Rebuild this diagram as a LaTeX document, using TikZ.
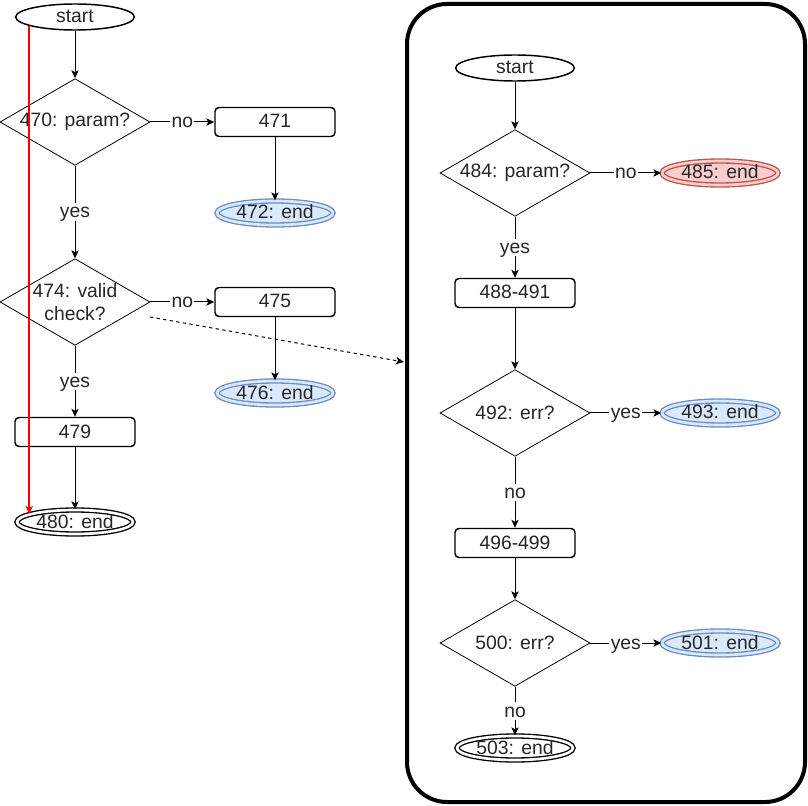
\documentclass[tikz,border=0pt]{standalone}
\usepackage{fontspec}
\setmainfont{Liberation Sans}
\usetikzlibrary{shapes.geometric,arrows.meta}
\definecolor{blueFill}{HTML}{DAE8FC}
\definecolor{blueLine}{HTML}{6C8EBF}
\definecolor{redFill}{HTML}{F8CECC}
\definecolor{redLine}{HTML}{B85450}
\definecolor{linkRed}{HTML}{FF0000}
\begin{document}
\begin{tikzpicture}[x=0.75pt,y=-0.75pt,
  every node/.style={font=\fontsize{14.5}{17}\selectfont, text=black!85},
  term/.style={ellipse, draw, line width=1.1pt, minimum width=89pt, minimum height=19.5pt,
    inner sep=0pt, text height=10pt, text depth=1pt},
  stepbox/.style={rectangle, rounded corners=3pt, draw, line width=1.1pt,
    minimum width=90pt, minimum height=21.75pt, inner sep=0pt, text height=10pt, text depth=1pt},
  decision/.style={diamond, draw, line width=0.6pt, shape aspect=1.72, minimum width=112.5pt,
    minimum height=65pt, inner sep=0pt, align=center},
  endnode/.style={ellipse, double, line width=1pt, double distance=2pt,
    minimum width=87pt, minimum height=18pt, inner sep=0pt, text height=10pt, text depth=1pt},
  blueend/.style={endnode, draw=blueLine, double=blueFill, fill=blueFill},
  redend/.style={endnode, draw=redLine, double=redFill, fill=redFill},
  blackend/.style={endnode, draw=black, double=white},
  flow/.style={line width=0.75pt, -{Stealth[length=6pt,width=5.5pt,inset=1.5pt]}},
  redflow/.style={line width=1.3pt, color=linkRed, -{Stealth[length=6pt,width=5.5pt,inset=1.5pt]}},
  dashflow/.style={flow, dash pattern=on 2.5pt off 2.5pt},
  lbl/.style={fill=white, inner sep=1pt, text height=10pt, text depth=1pt},
  panel/.style={rectangle, draw, line width=3pt, rounded corners=30pt,
    minimum width=298.5pt, minimum height=598.5pt, inner sep=0pt}]

\useasboundingbox (0,0) rectangle (808,806);

% ---------- left flow ----------
\node[term]     (s1)   at (75,17)  {start};
\node[decision] (d470) at (75,122) {470: param?};
\node[stepbox]  (b471) at (275,122) {471};
\node[blueend]  (e472) at (275,213) {472: end};
\node[decision] (d474) at (75,302) {474: valid\\check?};
\node[stepbox]  (b475) at (275,302) {475};
\node[blueend]  (e476) at (275,393) {476: end};
\node[stepbox]  (b479) at (75,432) {479};
\node[blackend] (e480) at (75,522) {480: end};

\draw[flow] (s1) -- (d470);
\draw[flow] (d470) -- node[lbl]{no} (b471);
\draw[flow] (b471) -- (e472);
\draw[flow] (d470) -- node[lbl]{yes} (d474);
\draw[flow] (d474) -- node[lbl]{no} (b475);
\draw[flow] (b475) -- (e476);
\draw[flow] (d474) -- node[lbl]{yes} (b479);
\draw[flow] (b479) -- (e480);

% ---------- detail panel ----------
\node[panel] (pnl) at (606,403) {};
\node[term]     (s2)   at (515,68)  {start};
\node[decision] (d484) at (515,173) {484: param?};
\node[redend]   (e485) at (720,173) {485: end};
\node[stepbox]  (b488) at (515,293) {488-491};
\node[decision] (d492) at (515,413) {492: err?};
\node[blueend]  (e493) at (720,413) {493: end};
\node[stepbox]  (b496) at (515,543) {496-499};
\node[decision] (d500) at (515,643) {500: err?};
\node[blueend]  (e501) at (720,643) {501: end};
\node[blackend] (e503) at (515,748) {503: end};

\draw[flow] (s2) -- (d484);
\draw[flow] (d484) -- node[lbl]{no} (e485);
\draw[flow] (d484) -- node[lbl]{yes} (b488);
\draw[flow] (b488) -- (d492);
\draw[flow] (d492) -- node[lbl]{yes} (e493);
\draw[flow] (d492) -- node[lbl]{no} (b496);
\draw[flow] (b496) -- (d500);
\draw[flow] (d500) -- node[lbl]{yes} (e501);
\draw[flow] (d500) -- node[lbl]{no} (e503);

% ---------- link from the check into the panel ----------
\coordinate (dashstart) at (150,317);
\coordinate (dashend) at (404,362);
\draw[dashflow] (dashstart) -- (dashend);

% ---------- direct jump from start to the final end ----------
\draw[redflow] (s1.191) -- (s1.191 |- e480.170);
\end{tikzpicture}
\end{document}
